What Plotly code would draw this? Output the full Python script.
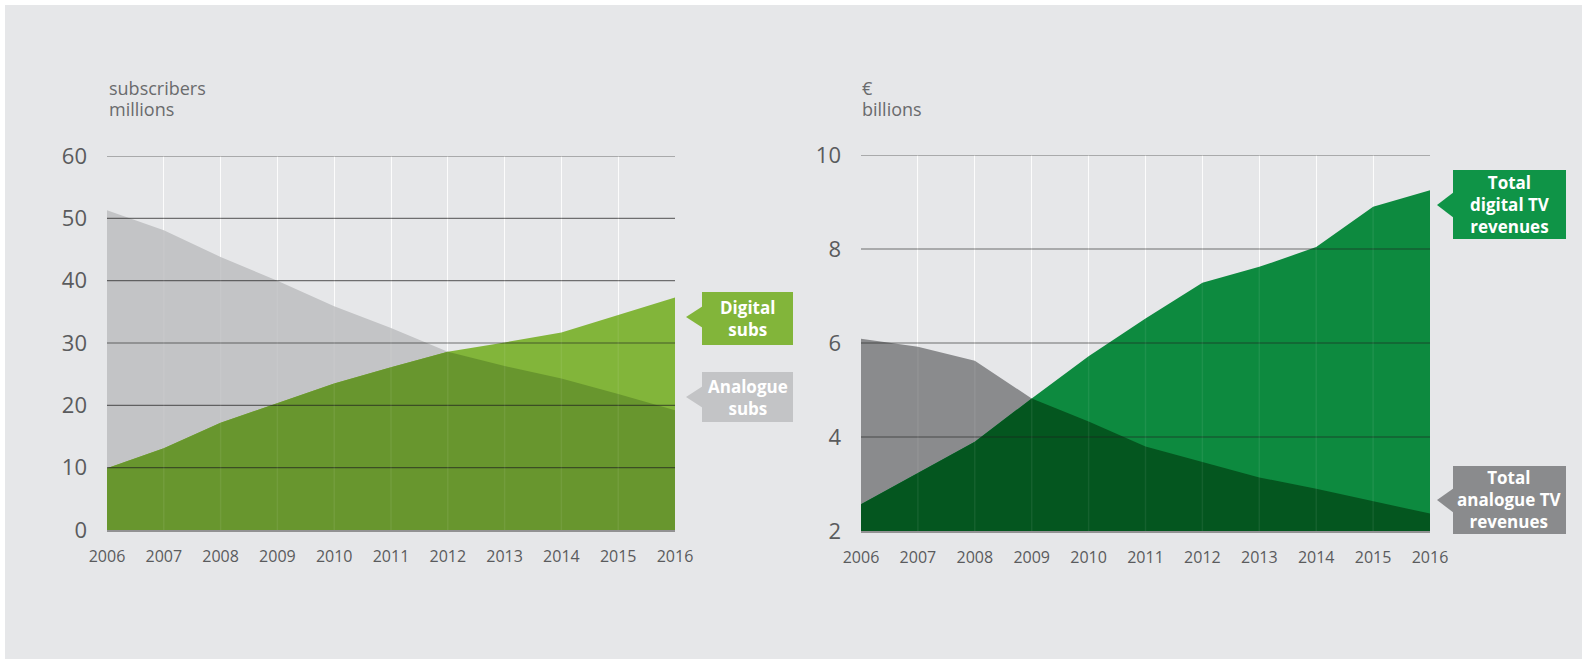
import plotly.graph_objects as go

# ---------------- data ----------------
years = [2006, 2007, 2008, 2009, 2010, 2011, 2012, 2013, 2014, 2015, 2016]

analogue_subs = [51.3, 48.1, 43.8, 40.0, 35.9, 32.4, 28.6, 26.3, 24.3, 21.8, 19.2]
digital_subs = [9.9, 13.1, 17.2, 20.3, 23.5, 26.1, 28.6, 30.1, 31.7, 34.5, 37.3]

analogue_rev = [6.09, 5.92, 5.62, 4.82, 4.33, 3.80, 3.47, 3.14, 2.90, 2.64, 2.37]
digital_rev = [2.57, 3.24, 3.90, 4.82, 5.72, 6.52, 7.28, 7.62, 8.04, 8.90, 9.25]

left_yticks = [0, 10, 20, 30, 40, 50, 60]
right_yticks = [2, 4, 6, 8, 10]

left_title = ["subscribers", "millions"]
right_title = ["€", "billions"]

# ---------------- style ----------------
W, H = 1595, 667
BG = "#e6e7e9"
FONT = "Open Sans"
TXT = "#5a5b5d"

C_AN_L = "#c3c4c6"
C_DI_L = "#82b53a"
C_OV_L = "#68962e"
C_AN_R = "#8a8b8d"
C_DI_R = "#0d8a3f"
C_OV_R = "#04561f"
C_BOX_DR = "#0f9447"


def px(x):
    return x / W


def py(y):
    return 1 - y / H


fig = go.Figure()


def areas(xa, ya, an, di, c_an, c_di, c_ov):
    ov = [min(a, d) for a, d in zip(an, di)]
    for vals, col in [(an, c_an), (di, c_di), (ov, c_ov)]:
        fig.add_trace(go.Scatter(
            x=years, y=vals, xaxis=xa, yaxis=ya, mode="lines",
            line=dict(width=0, color=col), fill="tozeroy", fillcolor=col,
            hoverinfo="skip", showlegend=False))


areas("x", "y", analogue_subs, digital_subs, C_AN_L, C_DI_L, C_OV_L)
areas("x2", "y2", analogue_rev, digital_rev, C_AN_R, C_DI_R, C_OV_R)

xcommon = dict(
    range=[years[0], years[-1]], tickmode="array", tickvals=years,
    ticktext=[str(y) for y in years], showgrid=True, gridcolor="rgba(255,255,255,0.85)",
    gridwidth=1.2, zeroline=False, showline=True, linecolor="rgba(90,90,90,0.6)",
    linewidth=1.5, tickfont=dict(family=FONT, size=16, color=TXT),
    ticks="", ticklabelstandoff=11, layer="below traces", fixedrange=True)

ycommon = dict(
    showgrid=False, zeroline=False, showline=False, ticks="",
    tickfont=dict(family=FONT, size=22, color=TXT), ticklabelstandoff=19,
    fixedrange=True)

fig.update_layout(
    width=W, height=H, autosize=False,
    margin=dict(l=0, r=0, t=0, b=0, pad=0, autoexpand=False),
    paper_bgcolor="#ffffff", plot_bgcolor="rgba(0,0,0,0)",
    xaxis=dict(domain=[px(107), px(675)], anchor="y", **xcommon),
    yaxis=dict(domain=[py(530), py(156)], anchor="x", range=[left_yticks[0], left_yticks[-1]],
               tickvals=left_yticks, **ycommon),
    xaxis2=dict(domain=[px(861), px(1430)], anchor="y2", **xcommon),
    yaxis2=dict(domain=[py(531), py(155)], anchor="x2", range=[right_yticks[0], right_yticks[-1]],
                tickvals=right_yticks, **ycommon),
)

shapes = []
# page background
shapes.append(dict(type="rect", xref="paper", yref="paper", x0=px(5), x1=px(1582),
                   y0=py(659), y1=py(5), fillcolor=BG, line=dict(width=0), layer="below"))

# horizontal gridlines drawn above the areas
for xr, yr, ticks in [("x domain", "y", left_yticks), ("x2 domain", "y2", right_yticks)]:
    for t in ticks[1:]:
        shapes.append(dict(type="line", xref=xr, yref=yr, x0=0, x1=1, y0=t, y1=t,
                           line=dict(color="rgba(30,30,30,0.6)", width=1.2), layer="above"))
# faint vertical lines over areas
for xr, yr in [("x", "y domain"), ("x2", "y2 domain")]:
    for yv in years[1:-1]:
        shapes.append(dict(type="line", xref=xr, yref=yr, x0=yv, x1=yv, y0=0, y1=1,
                           line=dict(color="rgba(255,255,255,0.07)", width=1.5), layer="above"))

annotations = []


def callout(x0, x1, y0, y1, tip, base, text, col):
    shapes.append(dict(type="rect", xref="paper", yref="paper", x0=px(x0), x1=px(x1),
                       y0=py(y1), y1=py(y0), fillcolor=col, line=dict(width=0), layer="above"))
    tx, ty = tip
    shapes.append(dict(type="path", xref="paper", yref="paper",
                       path=f"M {px(x0 + 1)},{py(base[0])} L {px(tx)},{py(ty)} L {px(x0 + 1)},{py(base[1])} Z",
                       fillcolor=col, line=dict(width=0), layer="above"))
    annotations.append(dict(xref="paper", yref="paper", x=px((x0 + x1) / 2), y=py((y0 + y1) / 2),
                            xanchor="center", yanchor="middle", showarrow=False, align="center",
                            text=text, font=dict(family=FONT, size=17, color="#ffffff")))


callout(702, 793, 292, 345, (686, 317), (306, 328), "<b>Digital</b><br><b>subs</b>", C_DI_L)
callout(702, 793, 372, 422, (686, 397), (386, 408), "<b>Analogue</b><br><b>subs</b>", C_AN_L)
callout(1453, 1566, 170, 239, (1437, 205), (192, 218),
        "<b>Total</b><br><b>digital TV</b><br><b>revenues</b>", C_BOX_DR)
callout(1453, 1566, 466, 534, (1437, 500), (488, 513),
        "<b>Total</b><br><b>analogue TV</b><br><b>revenues</b>", C_AN_R)

for x0, lines in [(107, left_title), (860, right_title)]:
    for i, line in enumerate(lines):
        annotations.append(dict(xref="paper", yref="paper", x=px(x0), y=py(88 + 21 * i),
                                xanchor="left", yanchor="middle", showarrow=False, align="left",
                                text=line, font=dict(family=FONT, size=18, color="#6a6b6d")))

fig.update_layout(shapes=shapes, annotations=annotations)

fig.write_html("out.html", config={"displayModeBar": False},
               post_script="document.body.style.margin='0';")
